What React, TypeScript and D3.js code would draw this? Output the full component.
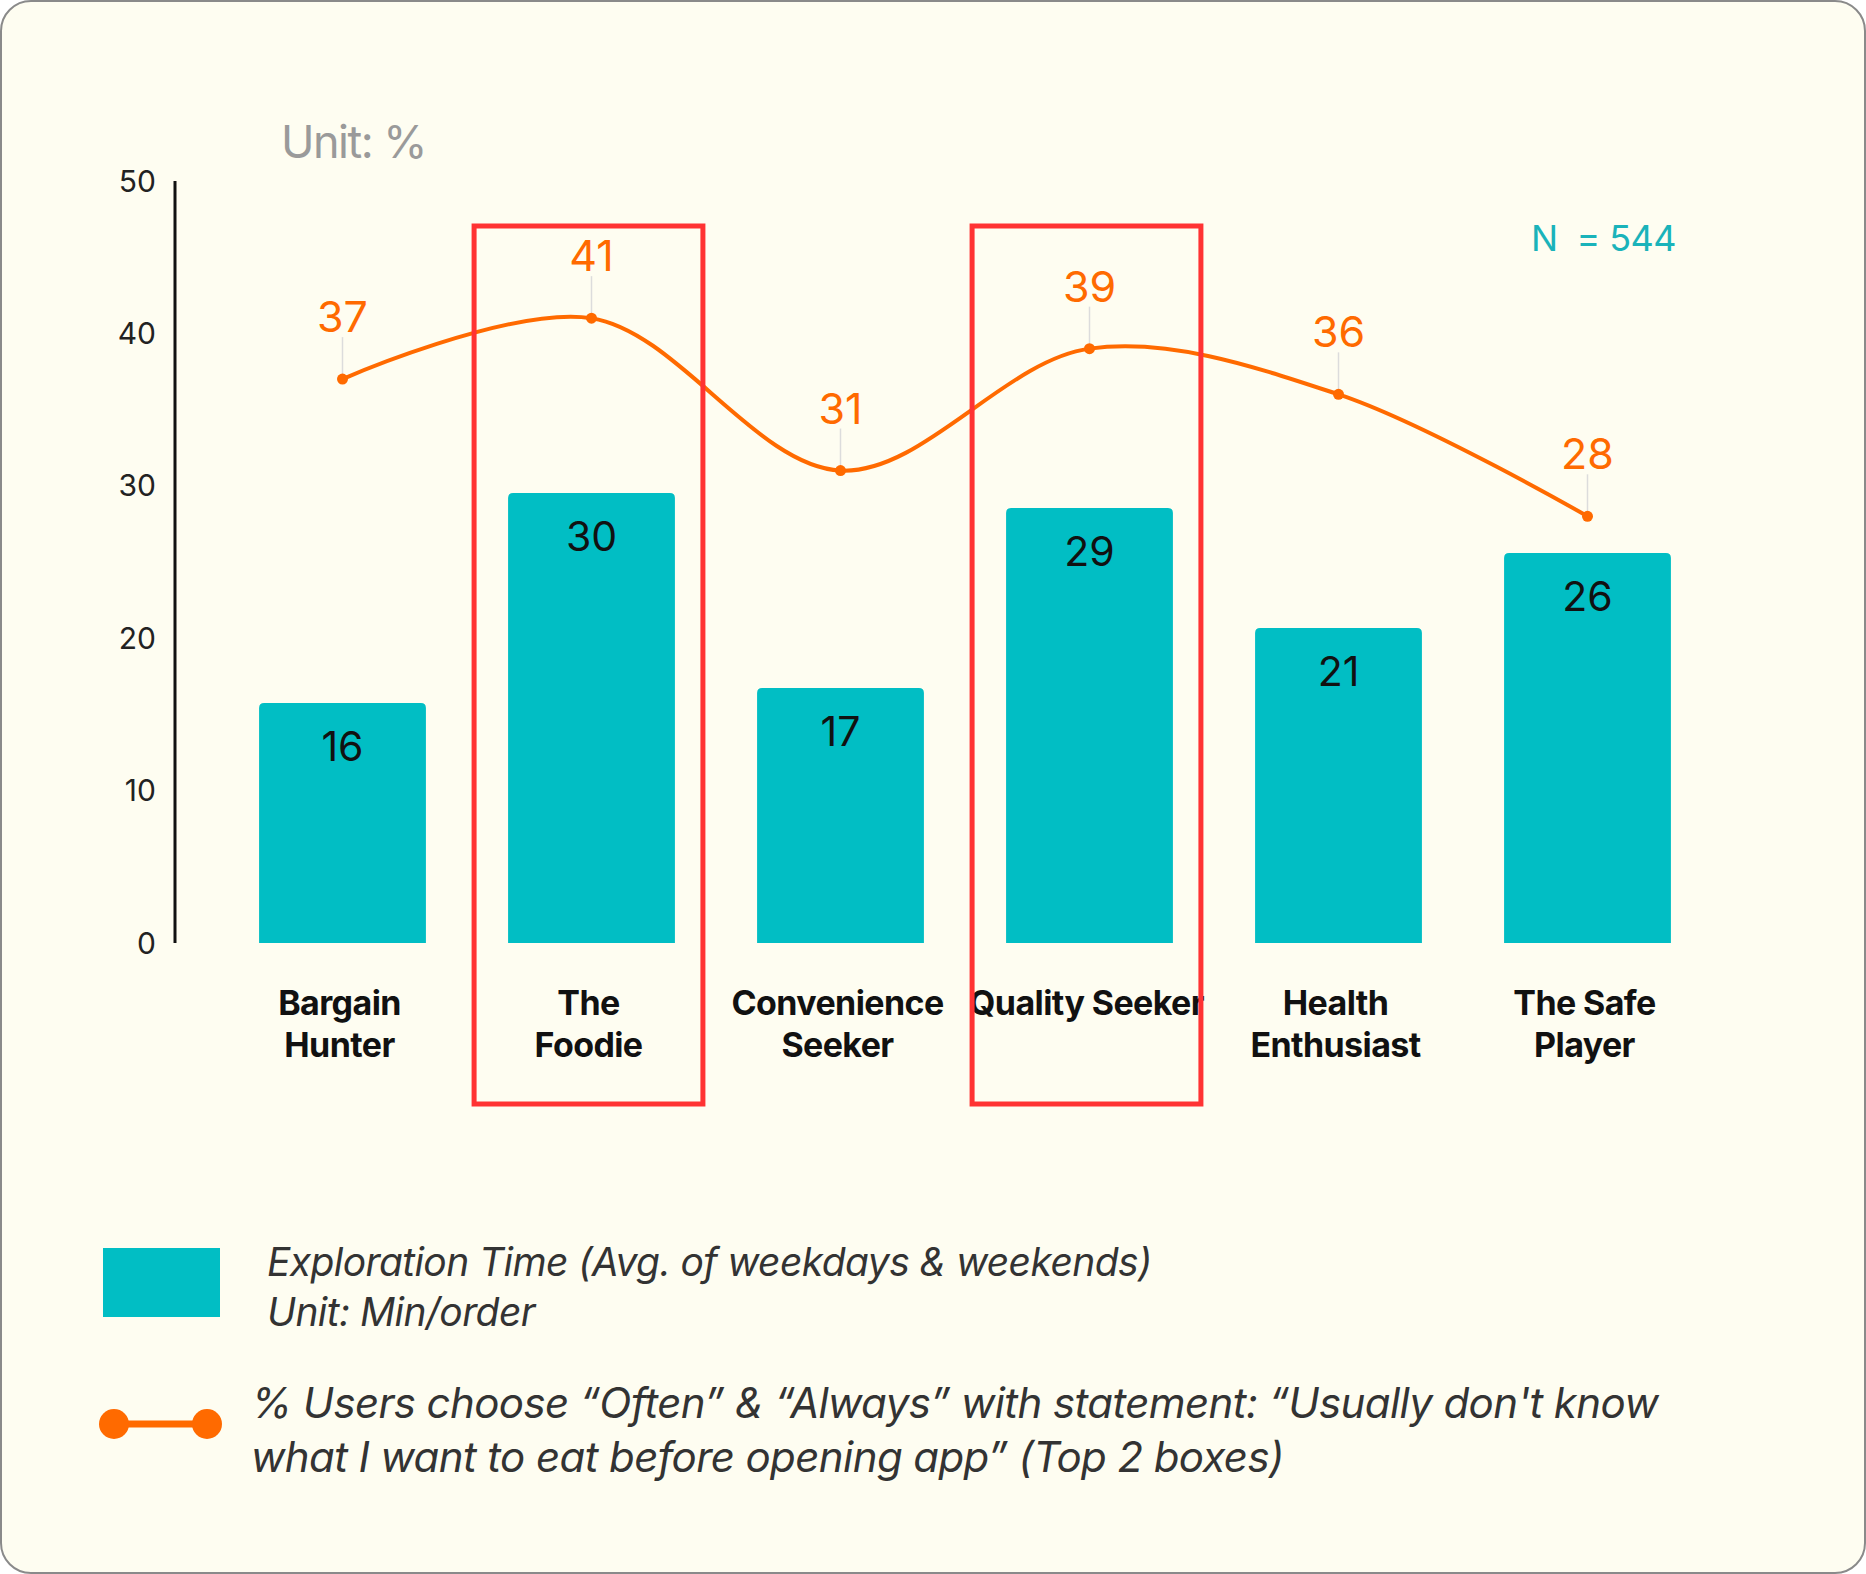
import React from 'react';
import * as d3 from 'd3';

const categories = ['Bargain Hunter', 'The Foodie', 'Convenience Seeker', 'Quality Seeker', 'Health Enthusiast', 'The Safe Player'];
const categoryLines = [['Bargain', 'Hunter'], ['The', 'Foodie'], ['Convenience', 'Seeker'], ['Quality Seeker'], ['Health', 'Enthusiast'], ['The Safe', 'Player']];
const explorationTime = [16, 30, 17, 29, 21, 26];
const dontKnowPct = [37, 41, 31, 39, 36, 28];
const yTicks = [0, 10, 20, 30, 40, 50];
const highlighted = ['The Foodie', 'Quality Seeker'];

const W = 1866;
const H = 1574;
const TEAL = '#01BEC4';
const ORANGE = '#FF6A00';
const RED = '#FF3333';
const FONT = 'Inter, Roboto, "Noto Sans", sans-serif';

const App: React.FC = () => {
  const x = d3.scaleBand<string>().domain(categories).range([218, 1712]).paddingInner(0.33).paddingOuter(0.165);
  const y = d3.scaleLinear().domain([0, 50]).range([943, 181]);
  // bars (min/order) sit on their own, slightly compressed scale
  const yBar = d3.scaleLinear().domain([0, 50.8]).range([943, 181]);
  const cx = (c: string) => (x(c) ?? 0) + x.bandwidth() / 2;

  const line = d3
    .line<number>()
    .x((_, i) => cx(categories[i]))
    .y(d => y(d))
    .curve(d3.curveCatmullRom.alpha(0.5));

  // bar with rounded top corners
  const barPath = (x0: number, y0: number, w: number, h: number, r: number) =>
    `M${x0},${y0 + h}V${y0 + r}Q${x0},${y0} ${x0 + r},${y0}H${x0 + w - r}Q${x0 + w},${y0} ${x0 + w},${y0 + r}V${y0 + h}Z`;

  return (
    <svg width={W} height={H} style={{ position: 'absolute', left: 0, top: 0, display: 'block' }} fontFamily={FONT}>
      <rect x={1} y={1} width={W - 2} height={H - 2} rx={30} fill="#FEFDF1" stroke="#8a8a8a" strokeWidth={2} />

      <text x={281} y={158} fontSize={45} fill="#9a9a9a" letterSpacing={-1.5}>Unit: %</text>
      <text x={1531} y={251} fontSize={36} fill="#1AB3BA" letterSpacing={-0.6} xmlSpace="preserve">N  = 544</text>

      {/* y axis */}
      <line x1={175} x2={175} y1={y(50)} y2={y(0)} stroke="#111" strokeWidth={3} />
      {yTicks.map(t => (
        <text key={t} x={156} y={y(t)} dy="0.35em" textAnchor="end" fontSize={30} fill="#222">{t}</text>
      ))}

      {/* bars */}
      {categories.map((c, i) => {
        const x0 = x(c) ?? 0;
        const top = yBar(explorationTime[i]);
        return (
          <g key={c}>
            <path d={barPath(x0, top, x.bandwidth(), yBar(0) - top, 5)} fill={TEAL} />
            <text x={cx(c)} y={top + 58} textAnchor="middle" fontSize={41} fill="#111">{explorationTime[i]}</text>
          </g>
        );
      })}

      {/* category labels */}
      {categories.map((c, i) => (
        <text key={c} x={cx(c)} textAnchor="middle" fontSize={34} fontWeight={700} fill="#111" letterSpacing={-0.6}>
          {categoryLines[i].map((l, j) => (
            <tspan key={j} x={cx(c) - 3} y={1015 + j * 42}>{l}</tspan>
          ))}
        </text>
      ))}

      {/* line series */}
      <path d={line(dontKnowPct) ?? ''} fill="none" stroke={ORANGE} strokeWidth={4} />
      {dontKnowPct.map((v, i) => {
        const px = cx(categories[i]);
        const py = y(v);
        return (
          <g key={i}>
            <line x1={px} x2={px} y1={py - 42} y2={py} stroke="#dcdcdc" strokeWidth={1.5} />
            <circle cx={px} cy={py} r={5.5} fill={ORANGE} />
            <text x={px} y={py - 47} textAnchor="middle" fontSize={43} fill={ORANGE}>{v}</text>
          </g>
        );
      })}

      {/* highlight boxes */}
      {highlighted.map(c => {
        const x0 = x(c) ?? 0;
        return (
          <rect key={c} x={x0 - 34} y={226} width={x.bandwidth() + 62} height={878} fill="none" stroke={RED} strokeWidth={5} />
        );
      })}

      {/* legend */}
      <rect x={103} y={1248} width={117} height={69} fill={TEAL} />
      <text fontSize={39} fontStyle="italic" fill="#333" letterSpacing={-0.6}>
        <tspan x={267} y={1276}>Exploration Time (Avg. of weekdays &amp; weekends)</tspan>
        <tspan x={267} y={1326}>Unit: Min/order</tspan>
      </text>

      <line x1={114} x2={207} y1={1424} y2={1424} stroke={ORANGE} strokeWidth={7} />
      <circle cx={114} cy={1424} r={15} fill={ORANGE} />
      <circle cx={207} cy={1424} r={15} fill={ORANGE} />
      <text fontSize={42} fontStyle="italic" fill="#333" letterSpacing={-0.6}>
        <tspan x={251} y={1418}>% Users choose “Often” &amp; “Always” with statement: “Usually don't know</tspan>
        <tspan x={251} y={1472}>what I want to eat before opening app” (Top 2 boxes)</tspan>
      </text>
    </svg>
  );
};

export default App;
